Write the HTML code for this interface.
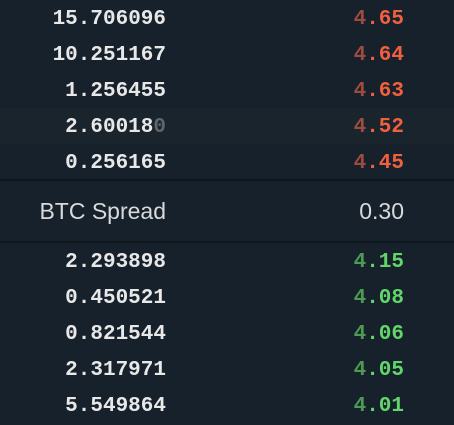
<!DOCTYPE html>
<html><head><style>
body{margin:0;width:454px;height:420px;background:#17212b;overflow:hidden;font-family:"Liberation Mono",monospace;}
.row{position:absolute;left:0;width:454px;height:36px;}
.amt{position:absolute;right:288px;top:2px;line-height:36px;font-size:21px;font-weight:bold;color:#e8e8e8;}
.pr{position:absolute;right:50px;top:2px;line-height:36px;font-size:21px;font-weight:bold;}
.ask .d{color:#9c4b3f}.ask .r{color:#f0603f}
.bid .d{color:#4d9a52}.bid .r{color:#62d66a}
.dim{color:#5e666d}
#spread{position:absolute;left:0;top:179px;width:454px;height:60px;border-top:2px solid #0f171e;border-bottom:2px solid #0f171e;background:#17212b;font-family:"Liberation Sans",sans-serif;font-size:23px;color:#d8dadc;}
</style></head><body>
<div id="book"></div>
<div id="spread">
<span style="position:absolute;right:288px;top:17px">BTC Spread</span>
<span style="position:absolute;right:50px;top:17px">0.30</span>
</div>
<script>
const askAmounts=["15.706096","10.251167","1.256455","2.600180","0.256165"];
const askPrices=["4.65","4.64","4.63","4.52","4.45"];
const bidAmounts=["2.293898","0.450521","0.821544","2.317971","5.549864"];
const bidPrices=["4.15","4.08","4.06","4.05","4.01"];
const book=document.getElementById('book');
function addRow(amt,price,top,cls,bg,dimLast){
  const r=document.createElement('div');
  
  
  r.className='row '+cls;r.style.top=top+'px';
  if(bg) r.style.background=bg;
  const a=document.createElement('span');
  
  
  a.className='amt';
  if(dimLast){a.innerHTML=amt.slice(0,-1)+'<span class="dim">'+amt.slice(-1)+'</span>';}else a.textContent=amt;
  const p=document.createElement('span');
  
  
  p.className='pr';
  p.innerHTML='<span class="d">'+price[0]+'</span><span class="r">'+price.slice(1)+'</span>';
  r.appendChild(a);r.appendChild(p);book.appendChild(r);
}
askAmounts.forEach((a,i)=>addRow(a,askPrices[i],i*36,'ask',i==3?'#19242d':null,i==3));
bidAmounts.forEach((a,i)=>addRow(a,bidPrices[i],243+i*36,'bid',null,false));
</script>
</body></html>
